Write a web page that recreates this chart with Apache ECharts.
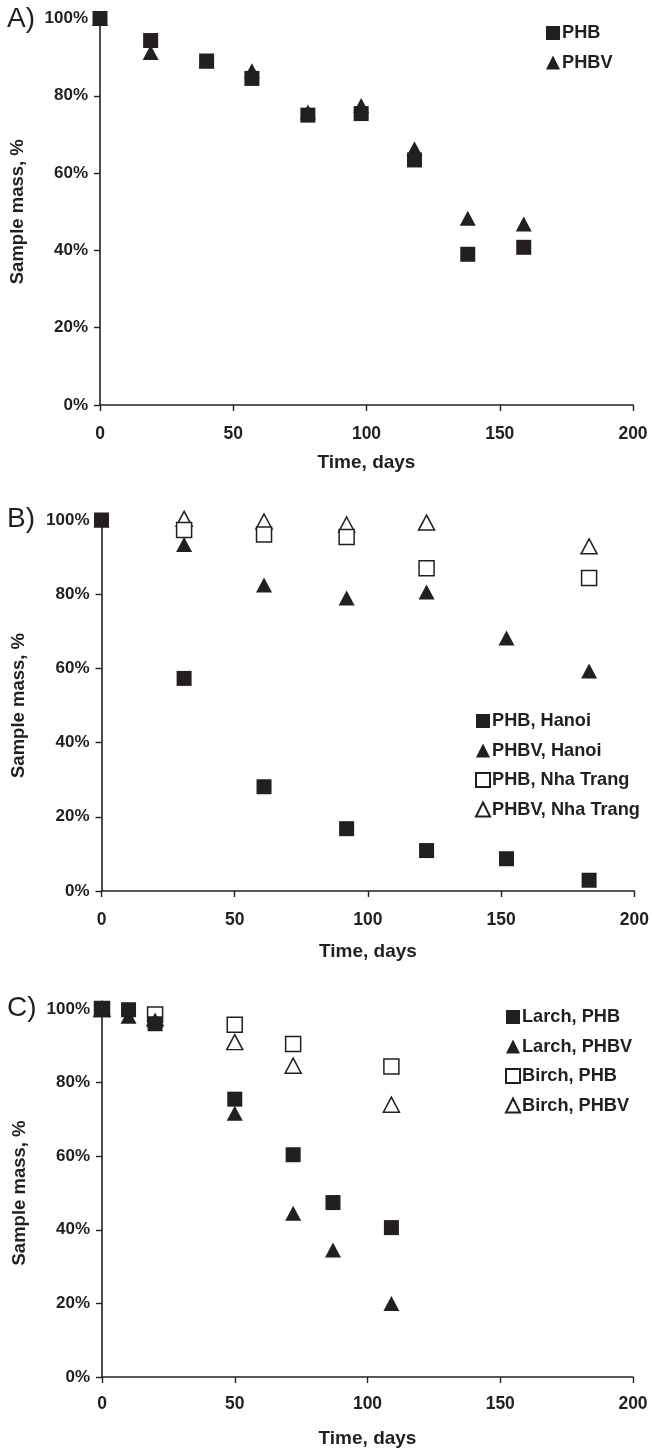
<!DOCTYPE html>
<html>
<head>
<meta charset="utf-8">
<title>Sample mass vs time</title>
<script src="https://cdn.jsdelivr.net/npm/echarts@6/dist/echarts.min.js"></script>
<style>
html, body { margin: 0; padding: 0; background: #fff; }
#chart { width: 652px; height: 1452px; }
</style>
</head>
<body>
<div id="chart"></div>
<script>
// panel A
var daysA = [0, 19, 40, 57, 78, 98, 118, 138, 159];
var massA_PHB = [100, 94.3, 89, 84.5, 75, 75.4, 63.4, 39, 40.8];
var massA_PHBV = [100, 91.2, 89, 86.5, 75.8, 77.5, 66.3, 48.3, 46.8];

// panel B
var daysB_PHB_Hanoi = [0, 31, 61, 92, 122, 152, 183];
var massB_PHB_Hanoi = [100, 57.3, 28.1, 16.8, 10.9, 8.7, 2.9];
var daysB_PHBV_Hanoi = [0, 31, 61, 92, 122, 152, 183];
var massB_PHBV_Hanoi = [100, 93.4, 82.5, 79, 80.6, 68.2, 59.3];
var daysB_NT = [31, 61, 92, 122, 183];
var massB_PHB_NT = [97.3, 96.1, 95.4, 87, 84.4];
var massB_PHBV_NT = [100.3, 99.6, 98.8, 99.3, 92.9];

// panel C
var daysC_Larch = [0, 10, 20, 50, 72, 87, 109];
var massC_Larch_PHB = [100, 99.8, 96, 75.5, 60.4, 47.4, 40.6];
var massC_Larch_PHBV = [100, 98, 97, 71.7, 44.5, 34.5, 20];
var daysC_Birch = [0, 20, 50, 72, 109];
var massC_Birch_PHB = [100, 98.5, 95.7, 90.5, 84.4];
var massC_Birch_PHBV = [100, 97.5, 91, 84.6, 74];

var xTicks = [0, 50, 100, 150, 200];
var yTicks = [0, 20, 40, 60, 80, 100];

var ink = '#231f20';
var fontFam = '"Liberation Sans", Arial, Helvetica, sans-serif';

function pairs(xs, ys) {
	var out = [];
	for (var i = 0; i < xs.length; i++) {
		out.push([xs[i], ys[i]]);
	}
	return out;
}

function xAxisFor(idx, gap, margin) {
	return {
		gridIndex: idx,
		type: 'value',
		min: xTicks[0],
		max: xTicks[xTicks.length - 1],
		interval: 50,
		name: 'Time, days',
		nameLocation: 'middle',
		nameGap: gap,
		nameTextStyle: { color: ink, fontFamily: fontFam, fontWeight: 'bold', fontSize: 19 },
		axisLine: { onZero: false, lineStyle: { color: ink, width: 1.6 } },
		axisTick: { show: true, length: 6, lineStyle: { color: ink, width: 1.4 } },
		axisLabel: { color: ink, fontFamily: fontFam, fontWeight: 'bold', fontSize: 17.5, margin: margin },
		splitLine: { show: false }
	};
}

function yAxisFor(idx) {
	return {
		gridIndex: idx,
		type: 'value',
		min: yTicks[0],
		max: yTicks[yTicks.length - 1],
		interval: 20,
		name: 'Sample mass, %',
		nameLocation: 'middle',
		nameRotate: 90,
		nameGap: 73,
		nameTextStyle: { color: ink, fontFamily: fontFam, fontWeight: 'bold', fontSize: 18.5 },
		axisLine: { show: true, lineStyle: { color: ink, width: 1.6 } },
		axisTick: { show: true, length: 6, lineStyle: { color: ink, width: 1.4 } },
		axisLabel: { color: ink, fontFamily: fontFam, fontWeight: 'bold', fontSize: 17, margin: 12, formatter: '{value}%' },
		splitLine: { show: false }
	};
}

function legendFor(names, left, top) {
	return {
		data: names,
		orient: 'vertical',
		left: left,
		top: top,
		itemWidth: 14,
		itemHeight: 14,
		itemGap: 11.5,
		selectedMode: false,
		textStyle: { color: ink, fontFamily: fontFam, fontWeight: 'bold', fontSize: 18.2, lineHeight: 18, padding: [0, 0, 0, -3] }
	};
}

// filled or open marker
function dots(name, sym, size, idx, data, open, z) {
	return {
		name: name,
		type: 'scatter',
		xAxisIndex: idx,
		yAxisIndex: idx,
		symbol: sym,
		symbolSize: size,
		clip: false,
		z: z,
		data: data,
		itemStyle: open
			? { color: '#fff', borderColor: ink, borderWidth: 1.5, opacity: 1 }
			: { color: ink, opacity: 1 },
		emphasis: { disabled: true }
	};
}

var sq = 15, tri = [16, 15];

var chart = echarts.init(document.getElementById('chart'));
var option = {
	animation: false,
	backgroundColor: '#fff',
	grid: [
		{ left: 100, top: 18.5, width: 533, height: 386.5 },
		{ left: 101.5, top: 520, width: 533, height: 371 },
		{ left: 102, top: 1009, width: 531, height: 368 }
	],
	xAxis: [xAxisFor(0, 48, 20), xAxisFor(1, 51, 20), xAxisFor(2, 52, 18)],
	yAxis: [yAxisFor(0), yAxisFor(1), yAxisFor(2)],
	legend: [
		legendFor(['PHB', 'PHBV'], 541, 19),
		legendFor(['PHB, Hanoi', 'PHBV, Hanoi', 'PHB, Nha Trang', 'PHBV, Nha Trang'], 470, 707),
		legendFor(['Larch, PHB', 'Larch, PHBV', 'Birch, PHB', 'Birch, PHBV'], 500, 1003)
	],
	graphic: [
		{ type: 'text', left: 7, top: 5, style: { text: 'A)', fill: ink, font: '28px ' + fontFam } },
		{ type: 'text', left: 7, top: 505, style: { text: 'B)', fill: ink, font: '28px ' + fontFam } },
		{ type: 'text', left: 7, top: 994, style: { text: 'C)', fill: ink, font: '28px ' + fontFam } }
	],
	series: [
		dots('PHBV', 'triangle', tri, 0, pairs(daysA, massA_PHBV), false, 2),
		dots('PHB', 'rect', sq, 0, pairs(daysA, massA_PHB), false, 3),

		dots('PHBV, Nha Trang', 'triangle', tri, 1, pairs(daysB_NT, massB_PHBV_NT), true, 2),
		dots('PHB, Nha Trang', 'rect', sq, 1, pairs(daysB_NT, massB_PHB_NT), true, 3),
		dots('PHBV, Hanoi', 'triangle', tri, 1, pairs(daysB_PHBV_Hanoi, massB_PHBV_Hanoi), false, 4),
		dots('PHB, Hanoi', 'rect', sq, 1, pairs(daysB_PHB_Hanoi, massB_PHB_Hanoi), false, 5),

		dots('Birch, PHBV', 'triangle', tri, 2, pairs(daysC_Birch, massC_Birch_PHBV), true, 2),
		dots('Birch, PHB', 'rect', sq, 2, pairs(daysC_Birch, massC_Birch_PHB), true, 3),
		dots('Larch, PHBV', 'triangle', tri, 2, pairs(daysC_Larch, massC_Larch_PHBV), false, 4),
		dots('Larch, PHB', 'rect', sq, 2, pairs(daysC_Larch, massC_Larch_PHB), false, 5)
	]
};
chart.setOption(option);
</script>
</body>
</html>
